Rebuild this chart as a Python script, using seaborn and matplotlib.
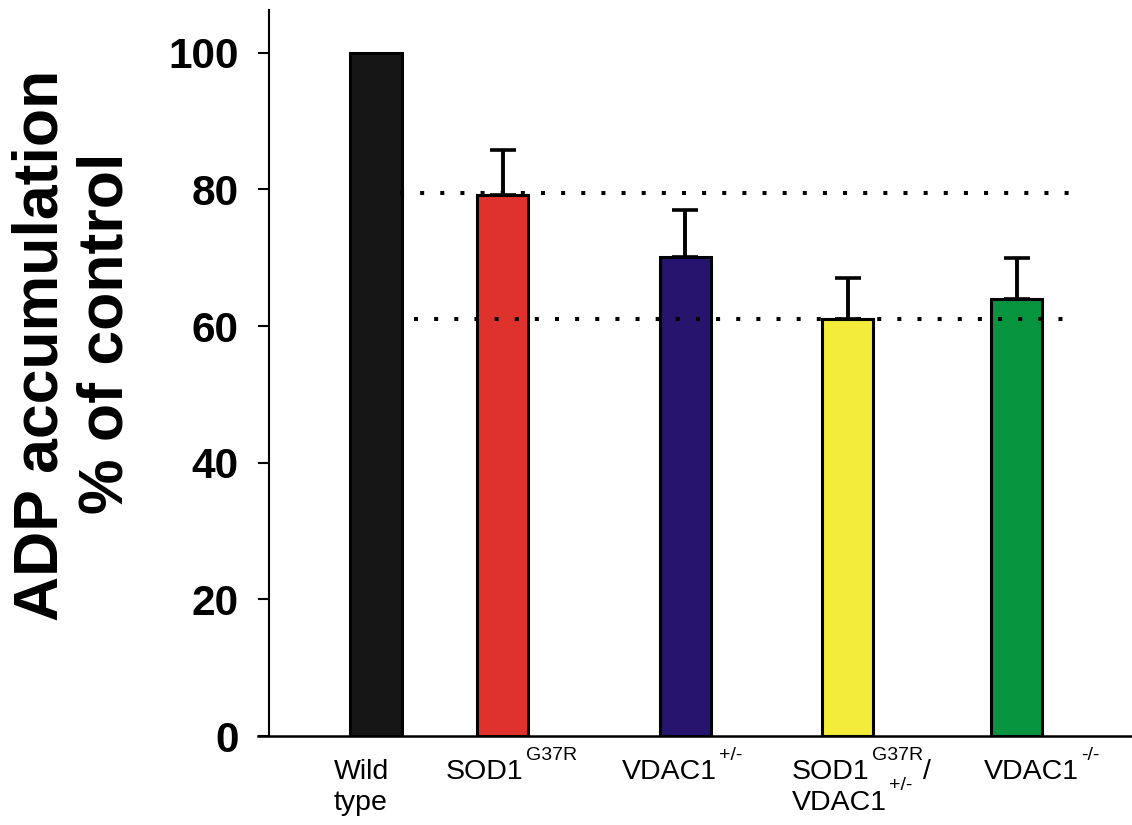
import re
import numpy as np
import pandas as pd
import matplotlib
matplotlib.use("Agg")
import matplotlib.pyplot as plt
from matplotlib.transforms import IdentityTransform
import seaborn as sns

# ADP accumulation in mitochondria, expressed as % of wild-type control
genotypes = ["Wild type", "SOD1 G37R", "VDAC1 +/-", "SOD1 G37R / VDAC1 +/-", "VDAC1 -/-"]
# "^{...}" marks a superscript, "\n" a line break
tick_labels = [
    "Wild\ntype",
    "SOD1^{G37R}",
    "VDAC1^{+/-}",
    "SOD1^{G37R}/\nVDAC1^{+/-}",
    "VDAC1^{-/-}",
]
adp_percent = [100.0, 79.2, 70.1, 61.0, 64.0]
adp_sem = [0.0, 6.5, 6.9, 6.1, 5.9]
bar_colors = ["#161616", "#e0322c", "#26146e", "#f3ec3a", "#07943f"]
y_ticks = [0, 20, 40, 60, 80, 100]
reference_levels = [79.4, 61.0]

# layout
x_pos = [1.35, 2.80, 4.89, 6.75, 8.68]
label_left = [0.87, 2.15, 4.165, 6.11, 8.31]
ref_starts = [1.63, 1.78]
ref_end = 9.35

W, H = 1132, 825
sns.set_style("ticks")
plt.rcParams["font.family"] = ["Liberation Sans", "DejaVu Sans"]
for key in ["text.color", "axes.labelcolor", "xtick.color", "ytick.color", "axes.edgecolor"]:
    plt.rcParams[key] = "black"

fig = plt.figure(figsize=(W / 100, H / 100), dpi=100)
ax = fig.add_axes([258 / W, 1 - 736 / H, 1 - 258 / W, (736 - 10) / H])

sns.despine(ax=ax, top=True, right=True)
ax.spines["left"].set_position(("outward", -7.9))
ax.spines["left"].set_linewidth(1.5)
ax.spines["bottom"].set_linewidth(1.8)

df = pd.DataFrame({"genotype": genotypes, "pos": x_pos, "adp": adp_percent})
sns.barplot(
    data=df, x="pos", y="adp", hue="genotype",
    palette=dict(zip(genotypes, bar_colors)), saturation=1,
    native_scale=True, dodge=False, width=0.403,
    errorbar=None, legend=False,
    edgecolor="black", linewidth=2.2, ax=ax,
)

# upper error bars only
err_x = [x for x, s in zip(x_pos, adp_sem) if s > 0]
err_y = [y for y, s in zip(adp_percent, adp_sem) if s > 0]
err_s = [s for s in adp_sem if s > 0]
ax.errorbar(err_x, err_y, yerr=[np.zeros(len(err_s)), err_s], fmt="none",
            ecolor="black", elinewidth=2.8, capsize=9.7, capthick=2.6, zorder=3)

# dotted reference lines
for level, start in zip(reference_levels, ref_starts):
    ax.hlines(level, start, ref_end, colors="black", linewidth=2.9,
              linestyles=(0, (1, 4)), zorder=4)

ax.set_xlim(0, 10)
ax.set_ylim(0, (736 - 10) / 6.833)
ax.set_xlabel("")
ax.set_ylabel("")

ax.set_yticks(y_ticks)
ax.set_yticklabels([str(t) for t in y_ticks], fontsize=30.5, fontweight="bold")
ax.tick_params(axis="y", direction="out", length=8, width=1.5, pad=13.7)

ax.set_xticks(x_pos)
ax.set_xticklabels([""] * len(x_pos))
ax.tick_params(axis="x", length=0)

# genotype labels under the bars, with raised superscripts
renderer = fig.canvas.get_renderer()
ident = IdentityTransform()
axis_bottom = ax.transAxes.transform((0, 0))[1]
base_size, sup_size = 20.5, 14
first_drop, line_step, sup_rise, sup_gap = 43, 31, 19.5, 2

for left, label in zip(label_left, tick_labels):
    x_start = ax.transData.transform((left, 0))[0]
    for row, line in enumerate(label.split("\n")):
        baseline = axis_bottom - first_drop - row * line_step
        x = x_start
        for k, piece in enumerate(re.split(r"\^\{(.*?)\}", line)):
            if not piece:
                continue
            is_sup = k % 2 == 1
            if is_sup:
                x += sup_gap
            t = fig.text(x, baseline + (sup_rise if is_sup else 0), piece,
                         transform=ident, ha="left", va="baseline",
                         fontsize=sup_size if is_sup else base_size)
            x = t.get_window_extent(renderer).x1

# two-line y axis title
fig.text(58 / W, 1 - 345 / H, "ADP accumulation", rotation=90,
         rotation_mode="anchor", ha="center", va="baseline",
         fontsize=45, fontweight="bold")
fig.text(123 / W, 1 - 333 / H, "% of control", rotation=90,
         rotation_mode="anchor", ha="center", va="baseline",
         fontsize=45, fontweight="bold")

fig.savefig("out.png", dpi=100)
